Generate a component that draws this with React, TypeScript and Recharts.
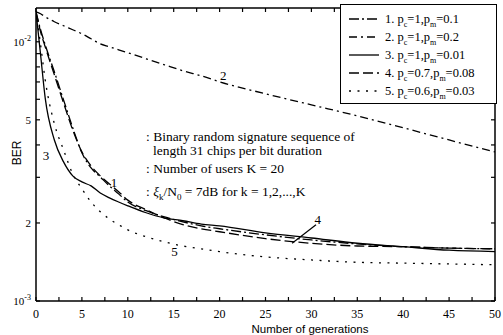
import React from 'react';
import { LineChart, Line, XAxis, YAxis, ReferenceDot, ReferenceLine } from 'recharts';

const generations = [0, 0.5, 1, 2, 3, 4, 5, 6, 7, 8, 9, 10, 12, 14, 16, 18, 20, 25, 30, 35, 40, 45, 50];

// BER, one list per curve
const ber1 = [0.01305, 0.01113, 0.00974, 0.00766, 0.00597, 0.00466, 0.00373, 0.00326, 0.00301, 0.00278, 0.00259, 0.00241, 0.00223, 0.00211, 0.00202, 0.00195, 0.0019, 0.0018, 0.00172, 0.00166, 0.00162, 0.0016, 0.00159];
const ber2 = [0.01305, 0.01283, 0.01249, 0.01195, 0.01153, 0.01113, 0.01074, 0.01027, 0.00982, 0.00957, 0.00931, 0.00907, 0.0086, 0.00815, 0.00773, 0.00739, 0.00701, 0.0063, 0.00571, 0.00518, 0.00466, 0.00418, 0.00376];
const ber3 = [0.01305, 0.00891, 0.00608, 0.00418, 0.00344, 0.00304, 0.00288, 0.00278, 0.00261, 0.0025, 0.00241, 0.00233, 0.00219, 0.00209, 0.00204, 0.00198, 0.00195, 0.00183, 0.00175, 0.00167, 0.00162, 0.00157, 0.00155];
const ber4 = [0.01305, 0.01093, 0.00957, 0.00746, 0.00581, 0.00457, 0.00376, 0.00332, 0.00304, 0.00283, 0.00264, 0.00245, 0.00225, 0.00209, 0.00197, 0.0019, 0.00185, 0.00174, 0.00167, 0.00163, 0.00162, 0.0016, 0.00159];
const ber5 = [0.01305, 0.00974, 0.00714, 0.00483, 0.00383, 0.00309, 0.00271, 0.00241, 0.00221, 0.00207, 0.00197, 0.00188, 0.00177, 0.00169, 0.00163, 0.00159, 0.00155, 0.00148, 0.00144, 0.00141, 0.0014, 0.00139, 0.00138];

const seriesKeys = ['c1', 'c2', 'c3', 'c4', 'c5'];
const seriesDash = ['10 3 2 3', '8 4 2 4', '', '10 4', '2 6.5'];
const legendNum = ['1.', '2.', '3.', '4.', '5.'];
const legendPc = ['1', '1', '1', '0.7', '0.6'];
const legendPm = ['0.1', '0.2', '0.01', '0.08', '0.03'];

const xTicks = [0, 2.5, 5, 7.5, 10, 12.5, 15, 17.5, 20, 22.5, 25, 27.5, 30, 32.5, 35, 37.5, 40, 42.5, 45, 47.5, 50];
const yTicks = [0.001, 0.002, 0.003, 0.004, 0.005, 0.006, 0.007, 0.008, 0.009, 0.01];
const yLabelValues = [0.001, 0.002, 0.005, 0.01];
const yLabelMain = ['10', '2', '5', '10'];
const yLabelExp = ['-3', '', '', '-2'];

const curveLabelText = ['1', '2', '3', '4', '5'];
const curveLabelGen = [8.5, 20.4, 1.1, 30.7, 15.1];
const curveLabelBer = [0.00288, 0.00739, 0.00366, 0.00206, 0.00155];

const data = generations.map((g, i) => ({
  g,
  c1: ber1[i],
  c2: ber2[i],
  c3: ber3[i],
  c4: ber4[i],
  c5: ber5[i],
}));

const SERIF = '"Liberation Serif", "Times New Roman", serif';
const SANS = '"Liberation Sans", Arial, sans-serif';

const BottomTick = (props: any) => {
  const { x, y, payload } = props;
  const v = payload.value;
  return (
    <g>
      <line x1={x} y1={y} x2={x} y2={y - 4} stroke="#000" strokeWidth={1.2} />
      {v % 5 === 0 && (
        <text x={x} y={y + 17} textAnchor="middle" fontFamily={SERIF} fontSize={12} fill="#000">
          {v}
        </text>
      )}
    </g>
  );
};

const TopTick = (props: any) => {
  const { x, y } = props;
  return <line x1={x} y1={y} x2={x} y2={y + 4} stroke="#000" strokeWidth={1.2} />;
};

const LeftTick = (props: any) => {
  const { x, y, payload } = props;
  const idx = yLabelValues.findIndex((v) => Math.abs(v - payload.value) < 1e-9);
  return (
    <g>
      <line x1={x} y1={y} x2={x + 4} y2={y} stroke="#000" strokeWidth={1.2} />
      {idx >= 0 && (
        <text x={x - 5} y={y + 4} textAnchor="end" fontFamily={SERIF} fontSize={11} fill="#000">
          <tspan>{yLabelMain[idx]}</tspan>
          {yLabelExp[idx] && (
            <tspan dy={-5} fontSize={8}>
              {yLabelExp[idx]}
            </tspan>
          )}
        </text>
      )}
    </g>
  );
};

const RightTick = (props: any) => {
  const { x, y } = props;
  return <line x1={x} y1={y} x2={x - 4} y2={y} stroke="#000" strokeWidth={1.2} />;
};

const axisLine = { stroke: '#000', strokeWidth: 1.5 };

export default function App() {
  return (
    <div style={{ position: 'absolute', left: 0, top: 0, width: 503, height: 335, background: '#fff' }}>
      <LineChart width={503} height={335} data={data} margin={{ top: 0, right: 0, bottom: 0, left: 0 }}>
        <XAxis
          dataKey="g"
          type="number"
          domain={[0, 50]}
          ticks={xTicks}
          interval={0}
          allowDataOverflow
          height={34}
          tickSize={0}
          tickMargin={0}
          tickLine={false}
          axisLine={axisLine}
          tick={<BottomTick />}
        />
        <XAxis
          xAxisId="top"
          orientation="top"
          dataKey="g"
          type="number"
          domain={[0, 50]}
          ticks={xTicks}
          interval={0}
          allowDataOverflow
          height={8}
          tickSize={0}
          tickMargin={0}
          tickLine={false}
          axisLine={axisLine}
          tick={<TopTick />}
        />
        <YAxis
          scale="log"
          type="number"
          domain={[0.001, 0.0135]}
          ticks={yTicks}
          interval={0}
          allowDataOverflow
          width={36}
          tickSize={0}
          tickMargin={0}
          tickLine={false}
          axisLine={axisLine}
          tick={<LeftTick />}
        />
        <YAxis
          yAxisId="right"
          orientation="right"
          scale="log"
          type="number"
          domain={[0.001, 0.0135]}
          ticks={yTicks}
          interval={0}
          allowDataOverflow
          width={8}
          tickSize={0}
          tickMargin={0}
          tickLine={false}
          axisLine={axisLine}
          tick={<RightTick />}
        />
        {seriesKeys.map((k, i) => (
          <Line
            key={k}
            dataKey={k}
            type="monotone"
            stroke="#000"
            strokeWidth={1.3}
            strokeDasharray={seriesDash[i] || undefined}
            dot={false}
            activeDot={false}
            isAnimationActive={false}
          />
        ))}
        <ReferenceLine
          segment={[
            { x: 27.9, y: 0.00167 },
            { x: 30.5, y: 0.00197 },
          ]}
          stroke="#000"
          strokeWidth={1.2}
        />
        {curveLabelText.map((t, i) => (
          <ReferenceDot
            key={t}
            x={curveLabelGen[i]}
            y={curveLabelBer[i]}
            r={0}
            fill="none"
            stroke="none"
            label={{ value: t, position: 'center', fill: '#000', fontSize: 13, fontFamily: SERIF }}
          />
        ))}
      </LineChart>

      {/* axis titles */}
      <div
        style={{
          position: 'absolute',
          left: 17,
          top: 153,
          transform: 'translate(-50%, -50%) rotate(-90deg)',
          fontFamily: SANS,
          fontSize: 12,
          color: '#000',
        }}
      >
        BER
      </div>
      <div
        style={{
          position: 'absolute',
          left: 310,
          top: 323,
          transform: 'translateX(-50%)',
          fontFamily: SANS,
          fontSize: 11.5,
          lineHeight: '12px',
          color: '#000',
          whiteSpace: 'nowrap',
        }}
      >
        Number of generations
      </div>

      {/* annotation block */}
      <div style={{ position: 'absolute', left: 146, top: 130, fontFamily: SERIF, fontSize: 13.5, color: '#000', whiteSpace: 'nowrap', lineHeight: '14px' }}>
        <div>: Binary random signature sequence of</div>
        <div style={{ paddingLeft: 7 }}>length 31 chips per bit duration</div>
        <div style={{ marginTop: 4 }}>: Number of users K = 20</div>
        <div style={{ marginTop: 9 }}>
          : <i>ξ</i>
          <sub style={{ fontSize: 9, lineHeight: 0 }}>k</sub>/N<sub style={{ fontSize: 9, lineHeight: 0 }}>0</sub> = 7dB for k = 1,2,...,K
        </div>
      </div>

      {/* legend */}
      <div
        style={{
          position: 'absolute',
          left: 340,
          top: 4,
          width: 155,
          height: 98,
          border: '1.5px solid #000',
          background: '#fff',
        }}
      >
        {legendNum.map((n, i) => (
          <div
            key={n}
            style={{
              position: 'absolute',
              left: 8,
              top: 7 + i * 18,
              height: 14,
              display: 'flex',
              alignItems: 'center',
              fontFamily: SERIF,
              fontSize: 12.5,
              color: '#000',
              whiteSpace: 'nowrap',
            }}
          >
            <svg width={30} height={6} style={{ marginRight: 6 }}>
              <line x1={0} y1={3} x2={30} y2={3} stroke="#000" strokeWidth={1.3} strokeDasharray={seriesDash[i] || undefined} />
            </svg>
            <span>
              {n} p<sub style={{ fontSize: 8, lineHeight: 0 }}>c</sub>={legendPc[i]},p<sub style={{ fontSize: 8, lineHeight: 0 }}>m</sub>={legendPm[i]}
            </span>
          </div>
        ))}
      </div>
    </div>
  );
}
